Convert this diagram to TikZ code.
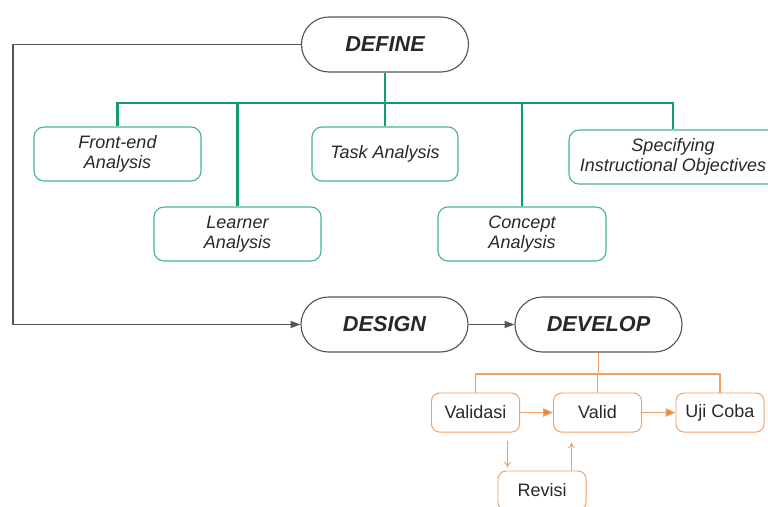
\documentclass[tikz,border=0pt]{standalone}
\usepackage{fontspec}
\setmainfont{Liberation Sans}
\usetikzlibrary{arrows.meta}
\definecolor{treegreen}{RGB}{18,158,104}
\definecolor{boxgreen}{RGB}{70,182,138}
\definecolor{devorange}{RGB}{240,160,100}
\definecolor{tiporange}{RGB}{238,130,50}
\definecolor{loopgray}{RGB}{85,85,85}
\definecolor{textgray}{RGB}{40,40,40}
\begin{document}
\begin{tikzpicture}[x=0.025cm,y=-0.025cm,
	phase/.style={draw=loopgray, line width=0.8pt, rounded corners=0.6875cm,
		minimum width=4.175cm, minimum height=1.375cm, text=textgray,
		font=\fontsize{15.4}{17}\selectfont\bfseries\itshape},
	analysis/.style={draw=boxgreen, line width=0.8pt, rounded corners=0.25cm,
		minimum height=1.35cm, align=center, text=textgray,
		font=\fontsize{12.8}{14.2}\selectfont\itshape},
	devbox/.style={draw=devorange, line width=0.7pt, rounded corners=0.2cm,
		minimum width=2.2cm, minimum height=0.975cm, text=textgray,
		font=\fontsize{12.8}{14.2}\selectfont},
	greenline/.style={draw=treegreen, line width=2pt},
	orangeline/.style={draw=devorange, line width=0.8pt},
	looparrow/.style={draw=loopgray, line width=0.8pt, -{Triangle[length=7pt,width=5pt]}},
	fillarrow/.style={orangeline, -{Triangle[length=7pt,width=6pt,fill=tiporange]}},
	thinarrow/.style={orangeline, line width=0.6pt, -{To[length=4pt,width=5pt]}}]
	\useasboundingbox (0,0) rectangle (768,506);
	% phases
	\node[phase] (define) at (385,44.5) {DEFINE};
	\node[phase] (design) at (384.5,324.5) {DESIGN};
	\node[phase] (develop) at (598.5,324.5) {DEVELOP};
	% define steps
	\node[analysis, minimum width=4.175cm] (front) at (117.5,154) {Front-end\\Analysis};
	\node[analysis, minimum width=3.65cm] (task) at (385,154) {Task Analysis};
	\node[analysis, minimum width=4.175cm] (learner) at (237.5,234) {Learner\\Analysis};
	\node[analysis, minimum width=4.2cm] (concept) at (522,234) {Concept\\Analysis};
	\node[analysis, minimum width=5.2cm] (spec) at (673,157) {Specifying\\Instructional Objectives};
	% develop steps
	\node[devbox] (validasi) at (475.5,412.5) {Validasi};
	\node[devbox] (valid) at (597.5,412.5) {Valid};
	\node[devbox] (ujicoba) at (720,412.5) {Uji Coba};
	\node[devbox] (revisi) at (542,490.5) {Revisi};
	\coordinate (bus) at (385,103);
	\coordinate (obus) at (598,374);
	\coordinate (loop) at (13,185);
	% green tree
	\draw[greenline] (define.south) -- (task.north);
	\draw[greenline] (front.north) -- (front.north |- bus) -- (spec.north |- bus) -- (spec.north);
	\draw[greenline] (learner.north) -- (learner.north |- bus);
	\draw[greenline] (concept.north) -- (concept.north |- bus);
	% gray flow
	\draw[looparrow] (define.west) -| (loop) |- (design.west);
	\draw[looparrow] (design.east) -- (develop.west);
	% orange tree
	\draw[orangeline] (develop.south) -- (develop.south |- obus);
	\draw[orangeline] (validasi.north) -- (validasi.north |- obus) -- (ujicoba.north |- obus) -- (ujicoba.north);
	\draw[orangeline] (valid.north) -- (valid.north |- obus);
	\draw[fillarrow] (validasi.east) -- (valid.west);
	\draw[fillarrow] (valid.east) -- (ujicoba.west);
	\draw[thinarrow, shorten <=8*0.025cm, shorten >=3*0.025cm] ([xshift=0.25cm]revisi.north west |- validasi.south) -- ([xshift=0.25cm]revisi.north west);
	\draw[thinarrow, shorten >=10*0.025cm] ([xshift=-0.375cm]revisi.north east) -- ([xshift=-0.375cm]revisi.north east |- valid.south);
\end{tikzpicture}
\end{document}
